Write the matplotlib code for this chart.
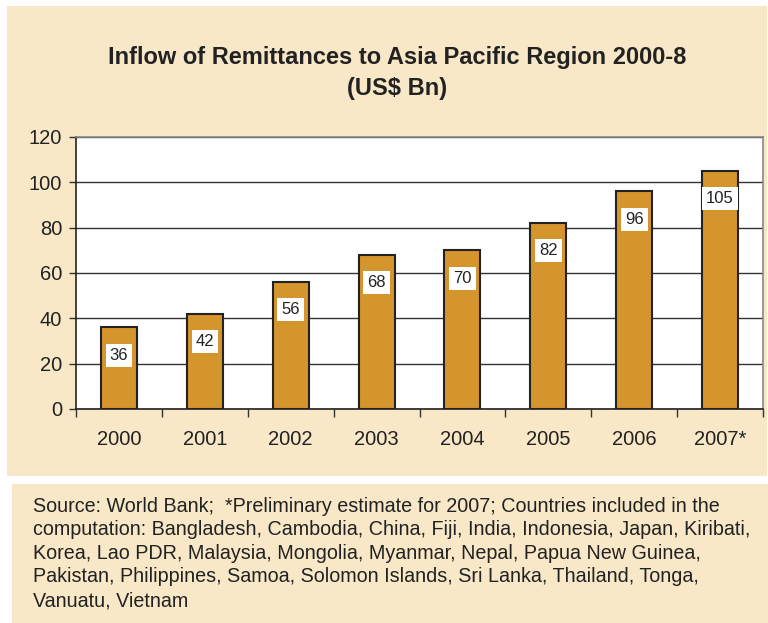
import matplotlib.pyplot as plt
from matplotlib.patches import Rectangle
import numpy as np

plt.rcParams['font.family'] = ['Liberation Sans', 'DejaVu Sans']

years = ["2000", "2001", "2002", "2003", "2004", "2005", "2006", "2007*"]
inflow = [36, 42, 56, 68, 70, 82, 96, 105]

beige = "#F8E8C8"
bar_col = "#D5952D"

fig = plt.figure(figsize=(7.68, 6.23), dpi=100)
fig.patch.set_facecolor("white")

# background panels
fig.add_artist(Rectangle((0.009, 0.236), 0.99, 0.755, transform=fig.transFigure,
                         facecolor=beige, edgecolor="none", zorder=-10))
fig.add_artist(Rectangle((0.015, 0.0), 0.985, 0.223, transform=fig.transFigure,
                         facecolor=beige, edgecolor="none", zorder=-10))

ax = fig.add_axes([0.099, 0.3435, 0.8945, 0.4366])
ax.set_facecolor("white")
x = np.arange(len(years))
ax.bar(x, inflow, width=0.42, color=bar_col, edgecolor="#222222", linewidth=1.5, zorder=3)

# value labels in white boxes inside the bars
for xi, v in zip(x, inflow):
    ax.annotate(str(v), (xi, v), xytext=(0, -20), textcoords="offset points",
                ha="center", va="center", fontsize=12, color="#222222", zorder=4,
                bbox=dict(boxstyle="square,pad=0.24", facecolor="white", edgecolor="none"))

ax.set_xlim(-0.5, len(years) - 0.5)
ax.set_ylim(0, 120)
ax.set_yticks(range(0, 121, 20))
ax.yaxis.grid(True, color="#333333", linewidth=1.0, zorder=1)
ax.set_xticks(x)
ax.set_xticklabels(years)
ax.set_xticks(np.arange(-0.5, len(years)), minor=True)
ax.tick_params(axis="x", which="major", length=0, pad=15, labelsize=14.5, colors="#222222")
ax.tick_params(axis="x", which="minor", length=6, width=1, color="#333333")
ax.tick_params(axis="y", length=5, width=1, color="#333333", labelsize=14.5, labelcolor="#222222", pad=5)
for s in ["left", "bottom"]:
    ax.spines[s].set_color("#222222")
    ax.spines[s].set_linewidth(1.2)
for s in ["top", "right"]:
    ax.spines[s].set_color("#888888")
    ax.spines[s].set_linewidth(1.2)

fig.text(0.517, 0.883, "Inflow of Remittances to Asia Pacific Region 2000-8\n(US$ Bn)",
         ha="center", va="center", fontsize=17, fontweight="bold", color="#222222",
         linespacing=1.45)

footer = ("Source: World Bank;  *Preliminary estimate for 2007; Countries included in the\n"
          "computation: Bangladesh, Cambodia, China, Fiji, India, Indonesia, Japan, Kiribati,\n"
          "Korea, Lao PDR, Malaysia, Mongolia, Myanmar, Nepal, Papua New Guinea,\n"
          "Pakistan, Philippines, Samoa, Solomon Islands, Sri Lanka, Thailand, Tonga,\n"
          "Vanuatu, Vietnam")
fig.text(0.043, 0.203, footer, ha="left", va="top", fontsize=14.2, color="#222222",
         linespacing=1.31)

fig.savefig("out.png", dpi=100)
